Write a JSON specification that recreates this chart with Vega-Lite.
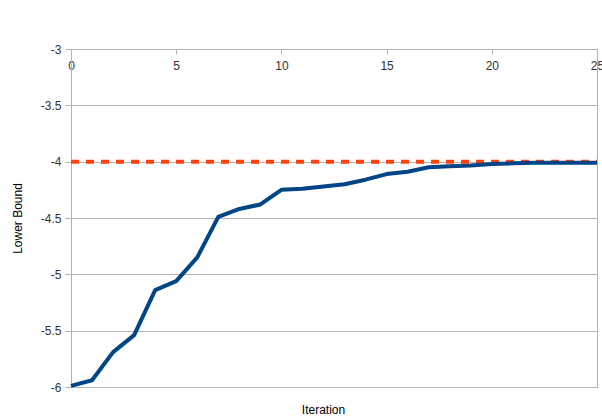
{
  "$schema": "https://vega.github.io/schema/vega-lite/v6.json",
  "width": 526,
  "height": 338,
  "autosize": {"type": "none"},
  "padding": {"left": 71, "top": 49, "right": 5, "bottom": 30},
  "config": {
    "font": "Liberation Sans",
    "view": {"stroke": "#b3b3b3", "strokeWidth": 1},
    "axis": {"labelFont": "Liberation Sans", "titleFont": "Liberation Sans", "labelFontSize": 12, "titleFontSize": 12, "titleFontWeight": "normal", "labelColor": "#333333", "titleColor": "#000000", "domainColor": "#b3b3b3", "tickColor": "#b3b3b3", "gridColor": "#b3b3b3", "gridOpacity": 1}
  },
  "datasets": {
    "bound": [
      {"iteration": 0, "value": -5.99},
      {"iteration": 1, "value": -5.94},
      {"iteration": 2, "value": -5.69},
      {"iteration": 3, "value": -5.54},
      {"iteration": 4, "value": -5.14},
      {"iteration": 5, "value": -5.06},
      {"iteration": 6, "value": -4.85},
      {"iteration": 7, "value": -4.49},
      {"iteration": 8, "value": -4.42},
      {"iteration": 9, "value": -4.38},
      {"iteration": 10, "value": -4.25},
      {"iteration": 11, "value": -4.24},
      {"iteration": 12, "value": -4.22},
      {"iteration": 13, "value": -4.20},
      {"iteration": 14, "value": -4.16},
      {"iteration": 15, "value": -4.11},
      {"iteration": 16, "value": -4.09},
      {"iteration": 17, "value": -4.05},
      {"iteration": 18, "value": -4.04},
      {"iteration": 19, "value": -4.035},
      {"iteration": 20, "value": -4.02},
      {"iteration": 21, "value": -4.015},
      {"iteration": 22, "value": -4.01},
      {"iteration": 23, "value": -4.01},
      {"iteration": 24, "value": -4.01},
      {"iteration": 25, "value": -4.01}
    ],
    "optimum": [
      {"iteration": 0, "value": -4},
      {"iteration": 25, "value": -4}
    ]
  },
  "layer": [
    {
      "data": {"name": "optimum"},
      "mark": {"type": "line", "color": "#ff420e", "strokeWidth": 4, "strokeDash": [8, 7]},
      "encoding": {
        "x": {"field": "iteration", "type": "quantitative"},
        "y": {"field": "value", "type": "quantitative"}
      }
    },
    {
      "data": {"name": "bound"},
      "mark": {"type": "line", "color": "#004586", "strokeWidth": 4, "strokeJoin": "round"},
      "encoding": {
        "x": {
          "field": "iteration", "type": "quantitative",
          "scale": {"domain": [0, 25], "nice": false},
          "axis": {"orient": "bottom", "offset": -338, "title": "Iteration", "titleX": 252, "titleY": 355, "values": [0, 5, 10, 15, 20, 25], "grid": false, "tickSize": 5, "labelPadding": 6, "labelFlush": false, "labelOverlap": false}
        },
        "y": {
          "field": "value", "type": "quantitative",
          "scale": {"domain": [-6, -3], "nice": false, "zero": false},
          "axis": {"title": "Lower Bound", "values": [-6, -5.5, -5, -4.5, -4, -3.5, -3], "labelExpr": "toString(datum.value)", "grid": true, "tickSize": 6, "labelPadding": 4, "titlePadding": 16}
        }
      }
    }
  ]
}
